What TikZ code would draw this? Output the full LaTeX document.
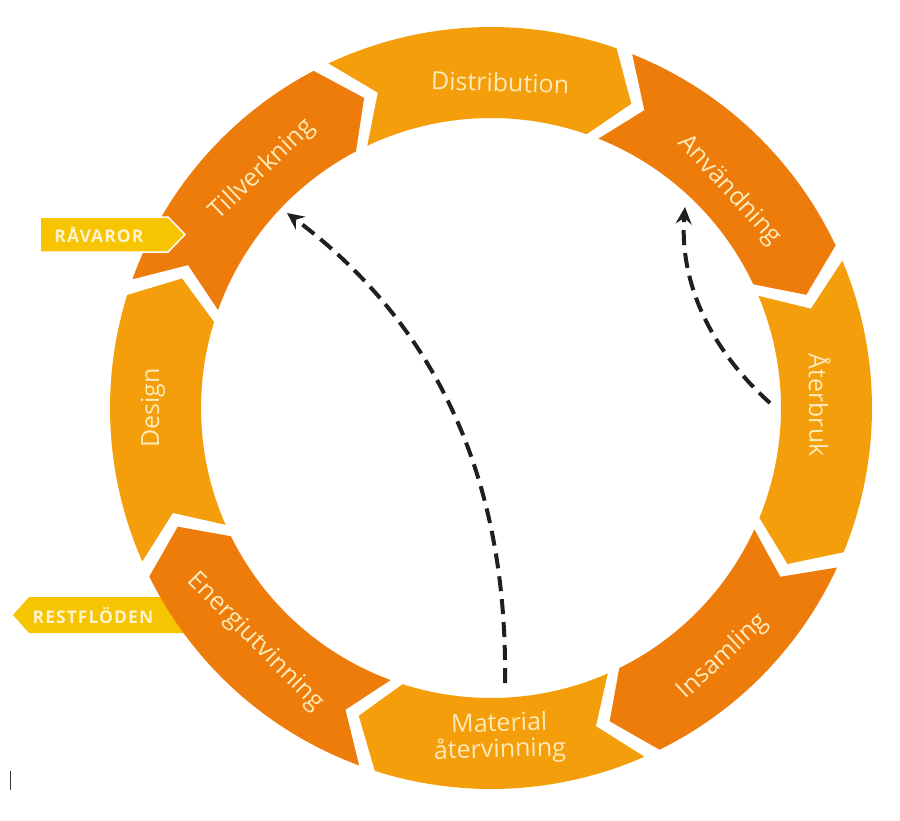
\documentclass[tikz,border=0pt]{standalone}
\usepackage{fontspec}
\setmainfont{Open Sans}
\newfontfamily\labf{Open Sans}
\newfontfamily\tagf[LetterSpace=6]{Open Sans}
\usetikzlibrary{arrows.meta}
\definecolor{darkor}{RGB}{238,124,10}
\definecolor{lightor}{RGB}{243,158,10}
\definecolor{yel}{RGB}{246,196,0}
\definecolor{txtc}{RGB}{253,234,184}
\definecolor{tagc}{RGB}{255,243,205}
\begin{document}
\begin{tikzpicture}[x=1pt,y=1pt,
  flow/.style={line width=4pt, dash pattern=on 15pt off 8pt, draw=black!88, -{Stealth[length=17pt,width=16pt,inset=6pt]}},
  tagtext/.style={font=\tagf\bfseries\fontsize{17.5}{17}\selectfont, text=tagc, inner sep=0pt},
  tagbox/.style={fill=yel},
  seglabel/.style={font=\labf\fontsize{25}{26}\selectfont, text=txtc, inner sep=0pt, align=center}]
\fill[white] (0,0) rectangle (900,-820);
\useasboundingbox (0,0) rectangle (900,-820);
% RESTFLODEN (under the ring)
\fill[tagbox] (13,-615) -- (29,-597) -- (192,-597) -- (192,-633) -- (29,-633) -- cycle;
\node[tagtext] (rest) at (93,-616) {RESTFLÖDEN};
% ring
\begin{scope}[shift={(491,-408)}]
\foreach \t/\h/\c in {205/161.5/lightor, 161.5/116.5/darkor, 116.5/69.5/lightor, 69.5/24/darkor, 24/-23.5/lightor, -23.5/-65/darkor, -65/-109/lightor, -109/-155/darkor}{
  \pgfmathsetmacro\ta{\t-1.25}
  \pgfmathsetmacro\ha{\h+1.25}
  \pgfmathsetmacro\tn{\ta-5.5}
  \pgfmathsetmacro\hn{\ha-5.5}
  \fill[\c] (\ta:381) arc[start angle=\ta,end angle=\ha,radius=381] -- (\hn:335) -- (\ha:290) arc[start angle=\ha,end angle=\ta,radius=290] -- (\tn:335) -- cycle;
}
\end{scope}
% RAVAROR (on top)
\fill[tagbox,draw=white,line width=1.5pt] (40,-217) -- (168,-217) -- (185,-234.5) -- (168,-252) -- (40,-252) -- cycle;
\node[tagtext] (rav) at (99,-235) {RÅVAROR};
% labels
\begin{scope}[shift={(491,-408)}]
\node[seglabel, rotate=43.8] (tillv) at (133.8:330) {Tillverkning};
\node[seglabel, rotate=-1.6] (distr) at (88.4:326) {Distribution};
\node[seglabel, rotate=-47.6] (anvand) at (42.4:323) {Användning};
\node[seglabel, rotate=-89.5] (aterb) at (0.5:329) {Återbruk};
\node[seglabel, rotate=43] (insam) at (-47:340) {Insamling};
\node[seglabel, rotate=1.5] (mater) at (-88.5:330) {Material\\återvinning};
\node[seglabel, rotate=-45.2] (energi) at (-135.2:332) {Energiutvinning};
\node[seglabel, rotate=90] (design) at (180:338) {Design};
\end{scope}
% dashed return flows
\coordinate (matTop) at (505,-683);
\coordinate (tilIn) at (287,-213);
\coordinate (aterIn) at (770,-403);
\coordinate (anvIn) at (685,-207);
\draw[flow] (matTop) .. controls (508,-470) and (430,-320) .. (tilIn);
\draw[flow] (aterIn) .. controls (700,-340) and (680,-270) .. (anvIn);
% small mark bottom left
\coordinate (markA) at (10,-771);
\coordinate (markB) at (10,-790);
\draw[line width=1pt, black!80] (markA) -- (markB);
\end{tikzpicture}
\end{document}
